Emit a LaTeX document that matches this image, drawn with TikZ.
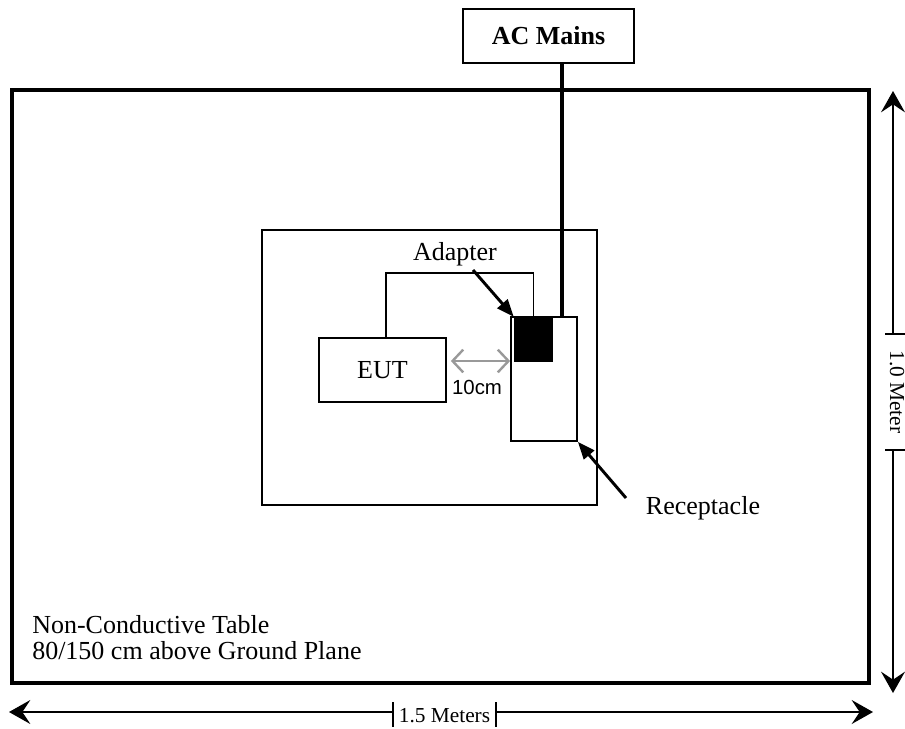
\documentclass[tikz,border=0pt]{standalone}
\usepackage{fontspec}
\setmainfont{Liberation Serif}
\newfontfamily\arialfont{Liberation Sans}
\usetikzlibrary{arrows.meta}
\definecolor{dimgray}{HTML}{999999}
\begin{document}
\begin{tikzpicture}[x=0.75pt,y=-0.75pt,
  box/.style={draw,line width=1.3pt,inner sep=0pt},
  lbl/.style={font=\fontsize{19.5}{20}\selectfont,inner sep=0pt},
  dimlbl/.style={font=\fontsize{16}{17}\selectfont,inner sep=0pt},
  dimline/.style={line width=1.1pt},
  dimarrow/.style={dimline,-{Stealth[length=16pt,width=18pt,inset=6pt]}},
  pointer/.style={line width=2.2pt,-{Triangle[length=13pt,width=10pt]}},
  wire/.style={line width=1.4pt}]
\useasboundingbox (0,0) rectangle (905,728);
% table
\node[box,line width=2.3pt,minimum width=642.75pt,minimum height=444.75pt] (table) at (440.5,386.5) {};
% AC mains
\node[box,line width=1.5pt,minimum width=128.25pt,minimum height=40.5pt,font=\bfseries\fontsize{19.5}{20}\selectfont] (ac) at (548.5,36) {AC Mains};
% inner plane
\node[box,line width=1.1pt,minimum width=251.25pt,minimum height=206.25pt] (plane) at (429.5,367.5) {};
% EUT
\node[box,minimum width=95.25pt,minimum height=48pt,lbl] (eut) at (382.5,370) {EUT};
% receptacle
\node[box,minimum width=49.5pt,minimum height=93pt] (rec) at (544,379) {};
% adapter
\node[fill=black,inner sep=0pt,minimum width=29.25pt,minimum height=33.75pt] (adapter) at (533.5,339.5) {};
% AC wire
\coordinate (acx) at (562,0);
\draw[line width=2.6pt] (ac.south -| acx) -- (rec.north -| acx);
% EUT cable
\coordinate (c1) at (386,273);
\draw[wire] (eut.north -| c1) -- (c1) -| (adapter.north);
% 10cm
\coordinate (g) at (0,361);
\draw[dimgray,line width=1.8pt,{Straight Barb[length=8pt,width=17pt]}-{Straight Barb[length=8pt,width=17pt]},shorten <=3pt] (eut.east |- g) -- (rec.west |- g);
\node[font=\arialfont\fontsize{15.3}{16}\selectfont,inner sep=0pt] (tencm) at (477,387) {10cm};
% Adapter label
\node[lbl] (adlbl) at (455,254) {Adapter};
\coordinate (a1) at (473,270);
\draw[pointer] (a1) -- (adapter.north west);
% Receptacle label
\node[lbl] (reclbl) at (703,508) {Receptacle};
\coordinate (r1) at (626,498);
\draw[pointer] (r1) -- (rec.south east);
% table text
\node[lbl,anchor=west] (t1) at (32,625) {Non-Conductive Table};
\node[lbl,anchor=west] (t2) at (32,651) {80/150 cm above Ground Plane};
% horizontal dimension
\coordinate (hl) at (9,712);
\coordinate (hr) at (873,712);
\coordinate (ht1) at (393,712);
\coordinate (ht2) at (496,712);
\draw[dimline] ([yshift=7.5pt]ht1) -- ([yshift=-11.5pt]ht1);
\draw[dimline] ([yshift=7.5pt]ht2) -- ([yshift=-11.5pt]ht2);
\draw[dimarrow] (ht1) -- (hl);
\draw[dimarrow] (ht2) -- (hr);
\node[dimlbl] (hlbl) at (444.5,716) {1.5 Meters};
% vertical dimension
\coordinate (vt) at (893,91);
\coordinate (vb) at (893,693);
\coordinate (vt1) at (893,334);
\coordinate (vt2) at (893,450);
\draw[dimline] ([xshift=-6pt]vt1) -- ([xshift=9pt]vt1);
\draw[dimline] ([xshift=-6pt]vt2) -- ([xshift=9pt]vt2);
\draw[dimarrow] (vt1) -- (vt);
\draw[dimarrow] (vt2) -- (vb);
\node[dimlbl,rotate=-90] (vlbl) at (897,392) {1.0 Meter};
\end{tikzpicture}
\end{document}
